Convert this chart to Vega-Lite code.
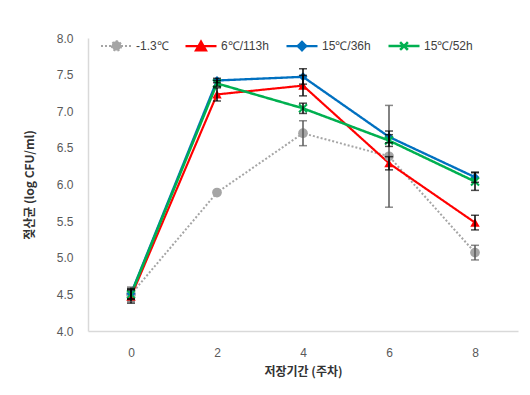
{
  "$schema": "https://vega.github.io/schema/vega-lite/v6.json",
  "width": 430,
  "height": 293,
  "autosize": {"type": "none"},
  "padding": {"left": 88, "top": 38, "right": 12, "bottom": 64},
  "config": {
    "font": "Liberation Sans",
    "view": {"stroke": null},
    "axis": {
      "ticks": false, "grid": false, "labelOverlap": false,
      "domainColor": "#D9D9D9", "domainWidth": 1.5,
      "labelFontSize": 12, "labelColor": "#595959",
      "titleFont": "Noto Sans CJK KR", "titleFontSize": 12, "titleFontWeight": "bold", "titleColor": "#333333"
    },
    "axisX": {"labelPadding": 16, "titlePadding": 8},
    "axisY": {"labelPadding": 15, "titlePadding": 20}
  },
  "datasets": {
    "means": [
      {"series": "-1.3℃", "week": 0, "cfu": 4.50},
      {"series": "-1.3℃", "week": 2, "cfu": 5.89},
      {"series": "-1.3℃", "week": 4, "cfu": 6.70},
      {"series": "-1.3℃", "week": 6, "cfu": 6.385},
      {"series": "-1.3℃", "week": 8, "cfu": 5.07},
      {"series": "6℃/113h", "week": 0, "cfu": 4.47},
      {"series": "6℃/113h", "week": 2, "cfu": 7.23},
      {"series": "6℃/113h", "week": 4, "cfu": 7.35},
      {"series": "6℃/113h", "week": 6, "cfu": 6.29},
      {"series": "6℃/113h", "week": 8, "cfu": 5.48},
      {"series": "15℃/36h", "week": 0, "cfu": 4.51},
      {"series": "15℃/36h", "week": 2, "cfu": 7.42},
      {"series": "15℃/36h", "week": 4, "cfu": 7.47},
      {"series": "15℃/36h", "week": 6, "cfu": 6.65},
      {"series": "15℃/36h", "week": 8, "cfu": 6.10},
      {"series": "15℃/52h", "week": 0, "cfu": 4.50},
      {"series": "15℃/52h", "week": 2, "cfu": 7.38},
      {"series": "15℃/52h", "week": 4, "cfu": 7.04},
      {"series": "15℃/52h", "week": 6, "cfu": 6.60},
      {"series": "15℃/52h", "week": 8, "cfu": 6.04}
    ],
    "errs": [
      {"series": "-1.3℃", "week": 0, "lo": 4.40, "hi": 4.60},
      {"series": "-1.3℃", "week": 4, "lo": 6.53, "hi": 6.87},
      {"series": "-1.3℃", "week": 6, "lo": 5.69, "hi": 7.08},
      {"series": "-1.3℃", "week": 8, "lo": 4.97, "hi": 5.17},
      {"series": "6℃/113h", "week": 0, "lo": 4.38, "hi": 4.56},
      {"series": "6℃/113h", "week": 2, "lo": 7.14, "hi": 7.32},
      {"series": "6℃/113h", "week": 4, "lo": 7.21, "hi": 7.49},
      {"series": "6℃/113h", "week": 6, "lo": 6.20, "hi": 6.38},
      {"series": "6℃/113h", "week": 8, "lo": 5.38, "hi": 5.58},
      {"series": "15℃/36h", "week": 0, "lo": 4.44, "hi": 4.58},
      {"series": "15℃/36h", "week": 2, "lo": 7.39, "hi": 7.45},
      {"series": "15℃/36h", "week": 4, "lo": 7.37, "hi": 7.58},
      {"series": "15℃/36h", "week": 6, "lo": 6.57, "hi": 6.73},
      {"series": "15℃/36h", "week": 8, "lo": 6.03, "hi": 6.17},
      {"series": "15℃/52h", "week": 0, "lo": 4.43, "hi": 4.57},
      {"series": "15℃/52h", "week": 2, "lo": 7.34, "hi": 7.42},
      {"series": "15℃/52h", "week": 4, "lo": 6.97, "hi": 7.11},
      {"series": "15℃/52h", "week": 6, "lo": 6.52, "hi": 6.68},
      {"series": "15℃/52h", "week": 8, "lo": 5.92, "hi": 6.16}
    ]
  },
  "layer": [
    {
      "data": {"name": "means"},
      "mark": {"type": "line"},
      "encoding": {
        "x": {"field": "week", "type": "quantitative", "scale": {"domain": [-1, 9]},
          "axis": {"values": [0, 2, 4, 6, 8], "title": "저장기간 (주차)"}},
        "y": {"field": "cfu", "type": "quantitative", "scale": {"domain": [4, 8]},
          "axis": {"values": [4, 4.5, 5, 5.5, 6, 6.5, 7, 7.5, 8], "format": ".1f", "title": "젖산균 (log CFU/ml)"}},
        "color": {
          "field": "series", "type": "nominal",
          "scale": {
            "domain": ["-1.3℃", "6℃/113h", "15℃/36h", "15℃/52h"],
            "range": ["#A5A5A5", "#FF0000", "#0070C0", "#00B050"]
          }
        },
        "strokeDash": {
          "field": "series", "type": "nominal",
          "scale": {"domain": ["-1.3℃", "6℃/113h", "15℃/36h", "15℃/52h"], "range": [[2, 2], [1, 0], [1, 0], [1, 0]]}
        },
        "strokeWidth": {
          "field": "series", "type": "nominal",
          "scale": {"domain": ["-1.3℃", "6℃/113h", "15℃/36h", "15℃/52h"], "range": [2, 2.5, 2.5, 2.5]},
          "legend": null
        }
      }
    },
    {
      "data": {"name": "means"},
      "transform": [{"filter": "datum.series === '-1.3℃'"}],
      "mark": {"type": "point", "shape": "circle", "filled": true, "opacity": 1, "size": 95},
      "encoding": {
        "x": {"field": "week", "type": "quantitative", "axis": {"values": [0, 2, 4, 6, 8], "title": "저장기간 (주차)"}},
        "y": {"field": "cfu", "type": "quantitative", "axis": {"values": [4, 4.5, 5, 5.5, 6, 6.5, 7, 7.5, 8], "format": ".1f", "title": "젖산균 (log CFU/ml)"}},
        "color": {"field": "series", "type": "nominal"}
      }
    },
    {
      "data": {"name": "means"},
      "transform": [{"filter": "datum.series === '6℃/113h'"}],
      "mark": {"type": "point", "shape": "triangle-up", "filled": true, "opacity": 1, "size": 90},
      "encoding": {
        "x": {"field": "week", "type": "quantitative", "axis": {"values": [0, 2, 4, 6, 8], "title": "저장기간 (주차)"}},
        "y": {"field": "cfu", "type": "quantitative", "axis": {"values": [4, 4.5, 5, 5.5, 6, 6.5, 7, 7.5, 8], "format": ".1f", "title": "젖산균 (log CFU/ml)"}},
        "color": {"field": "series", "type": "nominal"}
      }
    },
    {
      "data": {"name": "means"},
      "transform": [{"filter": "datum.series === '15℃/36h'"}],
      "mark": {"type": "point", "shape": "diamond", "filled": true, "opacity": 1, "size": 80},
      "encoding": {
        "x": {"field": "week", "type": "quantitative", "axis": {"values": [0, 2, 4, 6, 8], "title": "저장기간 (주차)"}},
        "y": {"field": "cfu", "type": "quantitative", "axis": {"values": [4, 4.5, 5, 5.5, 6, 6.5, 7, 7.5, 8], "format": ".1f", "title": "젖산균 (log CFU/ml)"}},
        "color": {"field": "series", "type": "nominal"}
      }
    },
    {
      "data": {"name": "means"},
      "transform": [{"filter": "datum.series === '15℃/52h'"}],
      "mark": {"type": "point", "shape": "M-1,-1L1,1M-1,1L1,-1", "filled": false, "opacity": 1, "strokeWidth": 2, "size": 64},
      "encoding": {
        "x": {"field": "week", "type": "quantitative", "axis": {"values": [0, 2, 4, 6, 8], "title": "저장기간 (주차)"}},
        "y": {"field": "cfu", "type": "quantitative", "axis": {"values": [4, 4.5, 5, 5.5, 6, 6.5, 7, 7.5, 8], "format": ".1f", "title": "젖산균 (log CFU/ml)"}},
        "color": {"field": "series", "type": "nominal"}
      }
    },
    {
      "data": {"name": "errs"},
      "mark": {"type": "rule", "strokeWidth": 1.5},
      "encoding": {
        "x": {"field": "week", "type": "quantitative", "axis": {"values": [0, 2, 4, 6, 8], "title": "저장기간 (주차)"}},
        "y": {"field": "lo", "type": "quantitative", "axis": {"values": [4, 4.5, 5, 5.5, 6, 6.5, 7, 7.5, 8], "format": ".1f", "title": "젖산균 (log CFU/ml)"}},
        "y2": {"field": "hi"},
        "color": {"condition": {"test": "datum.series === '-1.3℃'", "value": "#595959"}, "value": "#000000"}
      }
    },
    {
      "data": {"name": "errs"},
      "mark": {"type": "tick", "orient": "horizontal", "size": 8, "thickness": 1.5},
      "encoding": {
        "x": {"field": "week", "type": "quantitative", "axis": {"values": [0, 2, 4, 6, 8], "title": "저장기간 (주차)"}},
        "y": {"field": "lo", "type": "quantitative", "axis": {"values": [4, 4.5, 5, 5.5, 6, 6.5, 7, 7.5, 8], "format": ".1f", "title": "젖산균 (log CFU/ml)"}},
        "color": {"condition": {"test": "datum.series === '-1.3℃'", "value": "#595959"}, "value": "#000000"}
      }
    },
    {
      "data": {"name": "errs"},
      "mark": {"type": "tick", "orient": "horizontal", "size": 8, "thickness": 1.5},
      "encoding": {
        "x": {"field": "week", "type": "quantitative", "axis": {"values": [0, 2, 4, 6, 8], "title": "저장기간 (주차)"}},
        "y": {"field": "hi", "type": "quantitative", "axis": {"values": [4, 4.5, 5, 5.5, 6, 6.5, 7, 7.5, 8], "format": ".1f", "title": "젖산균 (log CFU/ml)"}},
        "color": {"condition": {"test": "datum.series === '-1.3℃'", "value": "#595959"}, "value": "#000000"}
      }
    },
    {
      "data": {"name": "means"},
      "transform": [{"filter": "datum.week < 0"}],
      "mark": {"type": "point", "filled": true, "opacity": 1, "strokeWidth": 2},
      "encoding": {
        "x": {"field": "week", "type": "quantitative", "axis": {"values": [0, 2, 4, 6, 8], "title": "저장기간 (주차)"}},
        "y": {"field": "cfu", "type": "quantitative", "axis": {"values": [4, 4.5, 5, 5.5, 6, 6.5, 7, 7.5, 8], "format": ".1f", "title": "젖산균 (log CFU/ml)"}},
        "color": {"field": "series", "type": "nominal", "legend": {"title": null, "orient": "none", "legendX": 12, "legendY": -9, "direction": "horizontal", "symbolSize": 961, "symbolStrokeWidth": 2, "labelFontSize": 12, "labelColor": "#404040", "columnPadding": 12, "labelOffset": 3}},
        "stroke": {
          "field": "series", "type": "nominal",
          "scale": {"domain": ["-1.3℃", "6℃/113h", "15℃/36h", "15℃/52h"], "range": ["#A5A5A5", "#FF0000", "#0070C0", "#00B050"]},
          "legend": {"title": null, "orient": "none", "legendX": 12, "legendY": -9, "direction": "horizontal", "symbolSize": 961, "symbolStrokeWidth": 2, "labelFontSize": 12, "labelColor": "#404040", "columnPadding": 12, "labelOffset": 3}
        },
        "shape": {
          "field": "series", "type": "nominal",
          "scale": {"domain": ["-1.3℃", "6℃/113h", "15℃/36h", "15℃/52h"], "range": [
            "M-1,0H1M-0.3,0A0.3,0.3 0 1,0 0.3,0A0.3,0.3 0 1,0 -0.3,0Z",
            "M-1,0H1M0,-0.3L0.33,0.28L-0.33,0.28Z",
            "M-1,0H1M0,-0.27L0.27,0L0,0.27L-0.27,0Z",
            "M-1,0H1M-0.25,-0.25L0.25,0.25M-0.25,0.25L0.25,-0.25"
          ]},
          "legend": {"title": null, "orient": "none", "legendX": 12, "legendY": -9, "direction": "horizontal", "symbolSize": 961, "symbolStrokeWidth": 2, "labelFontSize": 12, "labelColor": "#404040", "columnPadding": 12, "labelOffset": 3}
        },
        "strokeDash": {
          "field": "series", "type": "nominal",
          "legend": {"title": null, "orient": "none", "legendX": 12, "legendY": -9, "direction": "horizontal", "symbolSize": 961, "symbolStrokeWidth": 2, "labelFontSize": 12, "labelColor": "#404040", "columnPadding": 12, "labelOffset": 3}
        }
      }
    }
  ]
}
